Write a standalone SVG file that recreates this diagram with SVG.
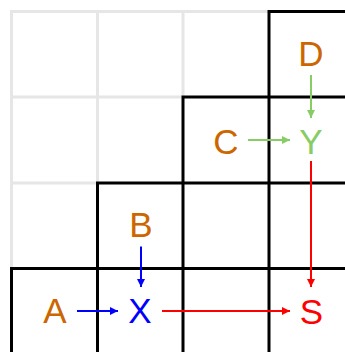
<svg xmlns="http://www.w3.org/2000/svg" width="345" height="352" viewBox="0 0 345 352">
<style>
.g{stroke:#e6e6e6;stroke-width:3;fill:none;stroke-linecap:square}
.k{stroke:#000;stroke-width:3;fill:none;stroke-linecap:square}
text{font-family:"Liberation Sans",Arial,sans-serif;font-size:35px;text-anchor:middle}
.o{fill:#cc6600}
.c{stroke-width:2;fill:none}
</style>
<defs>
<marker id="ab" viewBox="0 0 10 10" refX="10" refY="5" markerWidth="4" markerHeight="4" orient="auto" markerUnits="strokeWidth"><path d="M0,0 L10,5 L0,10 z" fill="#0000ff"/></marker>
<marker id="ar" viewBox="0 0 10 10" refX="10" refY="5" markerWidth="4" markerHeight="4" orient="auto" markerUnits="strokeWidth"><path d="M0,0 L10,5 L0,10 z" fill="#ff0000"/></marker>
<marker id="ag" viewBox="0 0 10 10" refX="10" refY="5" markerWidth="4" markerHeight="4" orient="auto" markerUnits="strokeWidth"><path d="M0,0 L10,5 L0,10 z" fill="#88cc66"/></marker>
</defs>
<g id="grid">
<path class="g" d="M11.5,11.5H269M11.5,11.5V268.5M97.5,11.5V183M183,11.5V97M11.5,97H183M11.5,183H97.5"/>
<path class="k" d="M269,11.5H350M269,11.5V352M183,97H350M183,97V352M97.5,183H350M97.5,183V352M11.5,268.5H350M11.5,268.5V352"/>
</g>
<g id="connectors">
<path class="c" stroke="#88cc66" d="M311,75V118" marker-end="url(#ag)"/>
<path class="c" stroke="#88cc66" d="M248,140H290" marker-end="url(#ag)"/>
<path class="c" stroke="#ff0000" d="M311,161V287" marker-end="url(#ar)"/>
<path class="c" stroke="#0000ff" d="M141,246.5V287" marker-end="url(#ab)"/>
<path class="c" stroke="#0000ff" d="M77,311H118" marker-end="url(#ab)"/>
<path class="c" stroke="#ff0000" d="M162,311H290" marker-end="url(#ar)"/>
</g>
<g id="D"><text class="o" x="311" y="66">D</text></g>
<g id="C"><text class="o" x="226" y="154">C</text></g>
<g id="Y"><text fill="#88cc66" x="311" y="154">Y</text></g>
<g id="B"><text class="o" x="141" y="237">B</text></g>
<g id="A"><text class="o" x="55" y="323">A</text></g>
<g id="X"><text fill="#0000ff" x="140" y="323">X</text></g>
<g id="S"><text fill="#ff0000" x="311.5" y="324">S</text></g>
</svg>
